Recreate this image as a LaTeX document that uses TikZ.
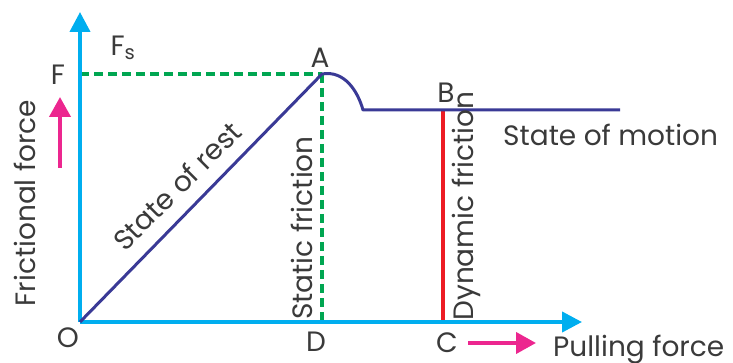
\documentclass[tikz,border=0pt]{standalone}
\usepackage{fontspec}
\setmainfont{Poppins}
\usetikzlibrary{arrows.meta}
\definecolor{axiscol}{HTML}{00AEEF}
\definecolor{navy}{HTML}{3A3A96}
\definecolor{grn}{HTML}{00A651}
\definecolor{redc}{HTML}{ED1C24}
\definecolor{pink}{HTML}{EC268F}
\definecolor{txt}{HTML}{3A3A3A}
\begin{document}
\begin{tikzpicture}[x=1pt,y=-1pt,
  lbl/.style={text=txt,font=\fontsize{28}{28}\selectfont,inner sep=0pt},
  axisline/.style={draw=axiscol,line width=4pt,-{Triangle[length=20pt,width=20pt]}},
  pinkarrow/.style={draw=pink,line width=4pt,-{Triangle[length=20pt,width=21pt]}},
  guide/.style={draw=grn,line width=4pt,dash pattern=on 9pt off 5pt},
  curve/.style={draw=navy,line width=3pt,line join=round}]
\useasboundingbox (0,0) rectangle (733,363);
\coordinate (O) at (80,322);
\coordinate (Ytop) at (80,12);
\coordinate (Xend) at (582,322);
\coordinate (A) at (322,74);
\coordinate (Fpt) at (80,74);
\coordinate (D) at (322,322);
\coordinate (K) at (363,110);
\coordinate (E) at (620,110);
\coordinate (B) at (443,110);
\coordinate (C) at (443,322);
% guides
\draw[guide] (Fpt) -- (A);
\draw[guide] (A) -- (D);
\draw[draw=redc,line width=4pt] (B) -- (C);
% axes
\draw[axisline] (O) -- (Ytop);
\draw[axisline] (O) -- (Xend);
% curve
\draw[curve] (O) -- (A) .. controls (345,70) and (358,92) .. (K) -- (E);
% labels
\node[lbl] (lF) at (58,75) {F};
\node[lbl] (lFs) at (123,48) {F\textsubscript{s}};
\node[lbl] (lA) at (320,58) {A};
\node[lbl] (lB) at (446,93) {B};
\node[lbl] (lO) at (68,338) {O};
\node[lbl] (lD) at (316,342) {D};
\node[lbl] (lC) at (447,343) {C};
\node[lbl,anchor=west] (lPull) at (553,350) {Pulling force};
\node[lbl,rotate=90] (lFric) at (25,203) {Frictional force};
\node[lbl,rotate=45] (lRest) at (177,186) {State of rest};
\node[lbl,rotate=90] (lStat) at (302,228) {Static friction};
\node[lbl,rotate=90] (lDyn) at (466,206) {Dynamic friction};
\node[lbl,anchor=west] (lMot) at (503,135) {State of motion};
% pink arrows
\coordinate (p1) at (60,168);
\coordinate (p2) at (60,97);
\draw[pinkarrow] (p1) -- (p2);
\coordinate (q1) at (468,343);
\coordinate (q2) at (536,343);
\draw[pinkarrow] (q1) -- (q2);
\end{tikzpicture}
\end{document}
